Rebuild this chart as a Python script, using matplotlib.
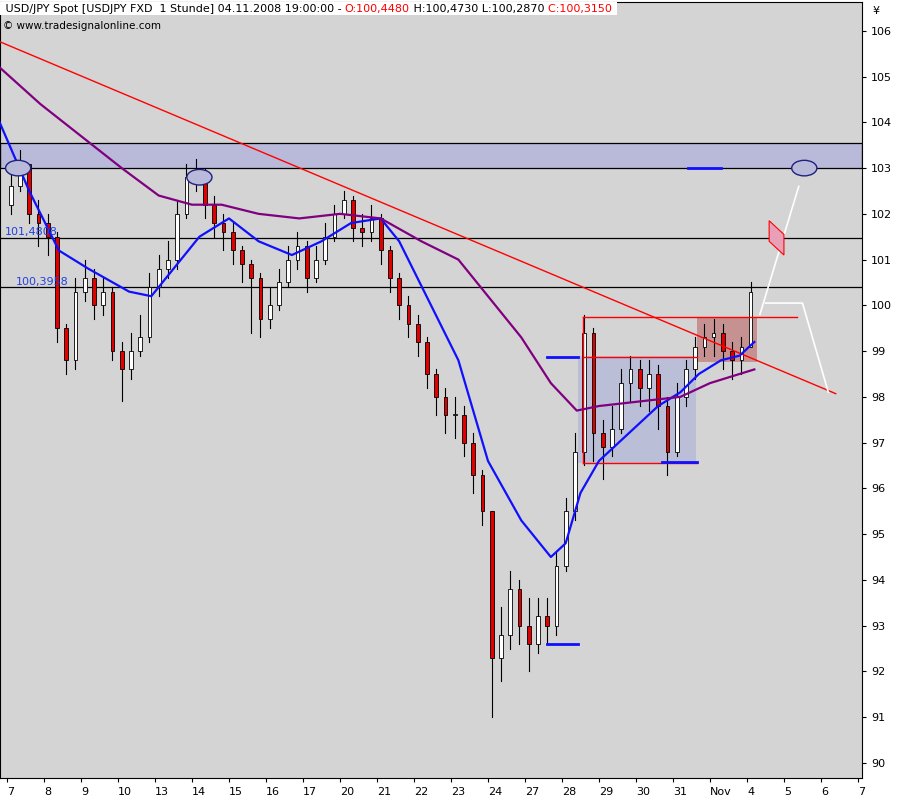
import matplotlib.pyplot as plt
import numpy as np
from matplotlib.patches import Rectangle, Ellipse, Polygon

# hourly chart squeezed to 4 candles per day, x in trading-day units
day_labels = ['7', '8', '9', '10', '13', '14', '15', '16', '17', '20', '21', '22',
              '23', '24', '27', '28', '29', '30', '31', 'Nov', '4', '5', '6', '7']

closes = [102.6, 103.1, 102.0, 101.8, 101.5, 99.5, 98.8, 100.3,
          100.6, 100.0, 100.3, 99.0, 98.6, 99.0, 99.3, 100.4,
          100.8, 101.0, 102.0, 102.8, 102.9, 102.2, 101.8, 101.6,
          101.2, 100.9, 100.6, 99.7, 100.0, 100.5, 101.0, 101.3,
          100.6, 101.0, 101.5, 102.0, 102.3, 101.7, 101.6, 101.9,
          101.2, 100.6, 100.0, 99.6, 99.2, 98.5, 98.0, 97.6,
          97.6, 97.0, 96.3, 95.5, 92.3, 92.8, 93.8, 93.0,
          92.6, 93.2, 93.0, 94.3, 95.5, 96.8, 99.4, 97.2,
          96.9, 97.3, 98.3, 98.6, 98.2, 98.5, 97.8, 96.8,
          98.0, 98.6, 99.1, 99.3, 99.4, 99.0, 98.8, 99.1, 100.3]
highs = [103.0, 103.4, 103.1, 102.3, 102.0, 101.6, 99.6, 100.6,
         101.0, 100.8, 100.6, 100.4, 99.2, 99.4, 99.8, 100.7,
         101.1, 101.4, 102.3, 103.1, 103.2, 103.0, 102.4, 102.0,
         101.8, 101.3, 101.0, 100.7, 100.4, 100.8, 101.3, 101.6,
         101.4, 101.3, 101.8, 102.2, 102.5, 102.4, 102.0, 102.2,
         102.0, 101.3, 100.7, 100.2, 99.8, 99.3, 98.6, 98.2,
         98.0, 97.8, 97.2, 96.4, 95.5, 93.4, 94.2, 94.0,
         93.6, 93.6, 93.6, 94.6, 95.8, 97.2, 99.8, 99.5,
         97.5, 97.8, 98.6, 98.9, 98.8, 98.8, 98.7, 98.0,
         98.3, 98.8, 99.3, 99.6, 99.7, 99.6, 99.2, 99.3, 100.5]
lows = [102.0, 102.5, 101.8, 101.3, 101.1, 99.2, 98.5, 98.6,
        100.1, 99.7, 99.8, 98.8, 97.9, 98.4, 98.9, 99.2,
        100.2, 100.6, 100.8, 101.9, 102.5, 101.9, 101.5, 101.2,
        100.9, 100.5, 99.4, 99.3, 99.5, 99.9, 100.4, 100.8,
        100.3, 100.5, 100.9, 101.4, 101.9, 101.4, 101.3, 101.4,
        100.9, 100.3, 99.7, 99.3, 98.9, 98.2, 97.6, 97.2,
        97.1, 96.7, 95.9, 95.2, 91.0, 91.8, 92.5, 92.6,
        92.0, 92.4, 92.6, 92.8, 94.2, 95.3, 96.5, 96.6,
        96.2, 96.7, 97.2, 97.9, 97.8, 97.7, 97.3, 96.3,
        96.7, 97.8, 98.4, 98.9, 98.9, 98.6, 98.4, 98.5, 99.1]
first_open = 102.2

# moving averages (day, price)
ma_fast_x = [-0.2, 0.6, 1.4, 2.2, 3.3, 3.9, 4.5, 5.2, 6.0, 6.8, 7.7, 8.5, 9.3, 10.1, 10.6,
             11.4, 12.2, 13.0, 13.9, 14.7, 15.1, 15.5, 16.0, 16.8, 17.6, 18.2, 18.7, 19.3, 19.8, 20.2]
ma_fast_y = [104.0, 102.5, 101.2, 100.8, 100.3, 100.2, 100.8, 101.5, 101.9, 101.4, 101.1, 101.4, 101.8,
             101.9, 101.4, 100.1, 98.8, 96.6, 95.3, 94.5, 94.8, 95.9, 96.6, 97.2, 97.8, 98.1, 98.5, 98.8, 98.9, 99.2]
ma_slow_x = [-0.2, 0.9, 2.0, 3.1, 4.1, 5.0, 5.8, 6.8, 7.9, 9.0, 10.1, 11.2, 12.2, 13.1, 13.9, 14.7, 15.4, 16.0, 17.1, 18.2, 19.0, 19.8, 20.2]
ma_slow_y = [105.2, 104.4, 103.7, 103.0, 102.4, 102.2, 102.2, 102.0, 101.9, 102.0, 101.9, 101.4, 101.0,
             100.1, 99.3, 98.3, 97.7, 97.8, 97.9, 98.0, 98.3, 98.5, 98.6]

line_high = 101.4808
line_low = 100.3958
fig = plt.figure(figsize=(9, 8), dpi=100)
fig.patch.set_facecolor('white')
ax = fig.add_axes([0.0, 22 / 800, 862 / 900, 1 - 24 / 800])
ax.set_facecolor('#d4d4d4')
ax.set_xlim(-0.19, 23.11)
ax.set_ylim(89.67, 106.63)

# resistance band and horizontal levels
ax.add_patch(Rectangle((-0.19, 103.0), 23.3, 0.55, facecolor='#b9b9d9', edgecolor='black', lw=0.9, zorder=1))
ax.axhline(line_high, color='black', lw=0.9, zorder=1)
ax.axhline(line_low, color='black', lw=0.9, zorder=1)
ax.text(-0.05, line_high + 0.05, '101,4808', color='#2040e0', fontsize=8, zorder=6)
ax.text(0.25, line_low + 0.05, '100,3958', color='#2040e0', fontsize=8, zorder=6)

# consolidation boxes
ax.add_patch(Rectangle((15.43, 96.55), 3.2, 2.35, facecolor='#b8bcd8', edgecolor='none', alpha=0.9, zorder=1))
ax.add_patch(Rectangle((18.65, 98.77), 1.62, 0.98, facecolor='#c48a8a', edgecolor='none', alpha=0.9, zorder=1))
ax.plot([15.57, 21.35], [99.75, 99.75], color='red', lw=1, zorder=4)
ax.plot([15.57, 18.65], [98.88, 98.88], color='red', lw=1, zorder=4)
ax.plot([15.57, 18.65], [96.55, 96.55], color='red', lw=1, zorder=4)
ax.plot([15.57, 15.57], [96.55, 99.75], color='red', lw=1, zorder=4)

# trendline
ax.plot([-0.19, 22.4], [105.76, 98.07], color='red', lw=1, zorder=4)

# candles
opens = [first_open] + closes[:-1]
xs = np.arange(len(closes)) * 0.25 + 0.1
for x, o, c, h, l in zip(xs, opens, closes, highs, lows):
    ax.plot([x, x], [l, h], color='black', lw=0.8, zorder=3)
    col = 'white' if c >= o else '#e00000'
    ax.add_patch(Rectangle((x - 0.05, min(o, c)), 0.10, max(abs(c - o), 0.03),
                           facecolor=col, edgecolor='black', lw=0.6, zorder=3))

ax.plot(ma_fast_x, ma_fast_y, color='#1010ff', lw=1.6, zorder=5)
ax.plot(ma_slow_x, ma_slow_y, color='#800080', lw=1.6, zorder=5)

# target marks
for ex, ey in [(0.3, 103.0), (5.2, 102.8), (21.55, 103.0)]:
    ax.add_patch(Ellipse((ex, ey), 0.68, 0.34, facecolor='#b9b9d9', edgecolor='#202080', lw=1, zorder=6))
for x0, x1, y in [(18.4, 19.3, 103.0), (14.6, 15.43, 98.88), (17.7, 18.65, 96.57), (14.6, 15.43, 92.6)]:
    ax.plot([x0, x1], [y, y], color='#1010ff', lw=2, zorder=6)
ax.plot([20.35, 21.4], [99.8, 102.6], color='white', lw=1.2, zorder=6)
ax.plot([20.5, 21.5, 22.2], [100.05, 100.05, 98.1], color='white', lw=1.2, zorder=6)
ax.add_patch(Polygon([[20.6, 101.85], [21.0, 101.55], [21.0, 101.1], [20.6, 101.4]],
                     facecolor='#e8a0b8', edgecolor='red', lw=0.8, zorder=6))

# axes
ax.yaxis.tick_right()
ax.set_yticks(range(90, 107))
ax.set_yticklabels([str(v) for v in range(90, 107)], fontsize=8)
ax.set_xticks(range(len(day_labels)))
ax.set_xticklabels(day_labels, fontsize=8, ha='left')
ax.tick_params(direction='out', length=3)
ax.text(1.012, 0.995, '¥', transform=ax.transAxes, fontsize=8, va='top')

# header, pieces chained one after the other
t = ax.text(0.002, 0.998, ' USD/JPY Spot [USDJPY FXD  1 Stunde] 04.11.2008 19:00:00 - ', transform=ax.transAxes,
            fontsize=8, va='top', bbox=dict(facecolor='white', edgecolor='none', pad=1), zorder=10)
for part, col in [('O:100,4480', 'red'), (' H:100,4730 L:100,2870 ', 'black'), ('C:100,3150 ', 'red')]:
    t = ax.annotate(part, xy=(1, 0), xycoords=t, va='bottom', fontsize=8, color=col,
                    bbox=dict(facecolor='white', edgecolor='none', pad=1), zorder=10)
ax.text(0.004, 0.975, '© www.tradesignalonline.com', transform=ax.transAxes, fontsize=7.5, va='top', zorder=10)

fig.savefig('out.png', dpi=100)
